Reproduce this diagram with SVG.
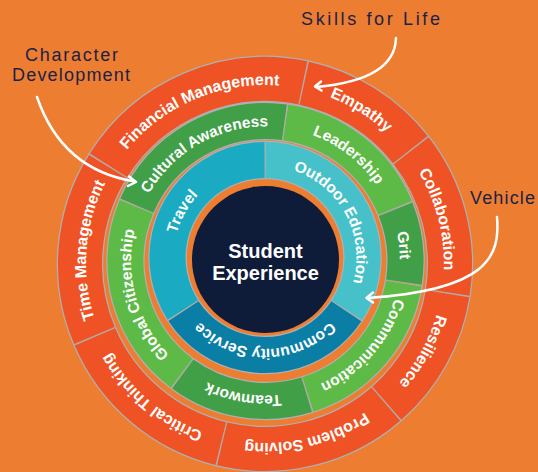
<svg xmlns="http://www.w3.org/2000/svg" width="538" height="472" viewBox="0 0 538 472">
<defs>
<style>
.c{fill:none}
.gr{stroke:#aeb0b2}
.red{stroke:#ef5224}
.dg{stroke:#409f47}
.lg{stroke:#5dba46}
.tv{stroke:#1aabc3}
.od{stroke:#47c1c9}
.cs{stroke:#0b7ea5}
.lbl{font-family:"Liberation Sans",Arial,sans-serif;font-weight:bold;font-size:15.5px;fill:#ffffff;text-anchor:middle}
.lr{font-size:16px}
.ctr{font-family:"Liberation Sans",Arial,sans-serif;font-weight:bold;font-size:20px;fill:#ffffff;text-anchor:middle}
.note{font-family:"Liberation Sans",Arial,sans-serif;font-size:18px;fill:#1b2247}
.arr{fill:none;stroke:#ffffff;stroke-width:2.5;stroke-linecap:round;stroke-linejoin:round}
</style>
<path id="tR" d="M -179 0 A 179 179 0 0 1 179 0 A 179 179 0 0 1 -179 0"/>
<path id="tG" d="M -134.5 0 A 134.5 134.5 0 0 1 134.5 0 A 134.5 134.5 0 0 1 -134.5 0"/>
<path id="tI" d="M -91.5 0 A 91.5 91.5 0 0 1 91.5 0 A 91.5 91.5 0 0 1 -91.5 0"/>
</defs>
<rect width="538" height="472" fill="#ed7d31"/>

<!-- outer ring -->
<g id="n-financial" transform="translate(265,264)">
<circle class="c gr" r="185" stroke-width="46.5" stroke-dasharray="226 3000" transform="rotate(212)"/>
<circle class="c red" r="185" stroke-width="44" stroke-dasharray="224.5 3000" transform="rotate(212.23)"/>
<g transform="rotate(-23)"><text class="lbl lr"><textPath href="#tR" startOffset="25%">Financial Management</textPath></text></g>
</g>
<g id="n-empathy" transform="translate(265,264)">
<circle class="c gr" r="185" stroke-width="46.5" stroke-dasharray="129.2 3000" transform="rotate(282)"/>
<circle class="c red" r="185" stroke-width="44" stroke-dasharray="127.7 3000" transform="rotate(282.23)"/>
<g transform="rotate(32)"><text class="lbl lr"><textPath href="#tR" startOffset="25%">Empathy</textPath></text></g>
</g>
<g id="n-collaboration" transform="translate(265,264)">
<circle class="c gr" r="185" stroke-width="46.5" stroke-dasharray="151.8 3000" transform="rotate(322)"/>
<circle class="c red" r="185" stroke-width="44" stroke-dasharray="150.3 3000" transform="rotate(322.23)"/>
<g transform="rotate(75.5)"><text class="lbl lr"><textPath href="#tR" startOffset="25%">Collaboration</textPath></text></g>
</g>
<g id="n-resilience" transform="translate(265,264)">
<circle class="c gr" r="185" stroke-width="46.5" stroke-dasharray="129.2 3000" transform="rotate(9)"/>
<circle class="c red" r="185" stroke-width="44" stroke-dasharray="127.7 3000" transform="rotate(9.23)"/>
<g transform="rotate(119)"><text class="lbl lr"><textPath href="#tR" startOffset="25%">Resilience</textPath></text></g>
</g>
<g id="n-problem" transform="translate(265,264)">
<circle class="c gr" r="185" stroke-width="46.5" stroke-dasharray="176.3 3000" transform="rotate(49)"/>
<circle class="c red" r="185" stroke-width="44" stroke-dasharray="174.8 3000" transform="rotate(49.23)"/>
<g transform="rotate(166.3)"><text class="lbl lr"><textPath href="#tR" startOffset="25%">Problem Solving</textPath></text></g>
</g>
<g id="n-critical" transform="translate(265,264)">
<circle class="c gr" r="185" stroke-width="46.5" stroke-dasharray="172.4 3000" transform="rotate(103.6)"/>
<circle class="c red" r="185" stroke-width="44" stroke-dasharray="170.9 3000" transform="rotate(103.83)"/>
<g transform="rotate(-139.7)"><text class="lbl lr"><textPath href="#tR" startOffset="25%">Critical Thinking</textPath></text></g>
</g>
<g id="n-time" transform="translate(265,264)">
<circle class="c gr" r="185" stroke-width="46.5" stroke-dasharray="177.6 3000" transform="rotate(157)"/>
<circle class="c red" r="185" stroke-width="44" stroke-dasharray="176.1 3000" transform="rotate(157.23)"/>
<g transform="rotate(-85.5)"><text class="lbl lr"><textPath href="#tR" startOffset="25%">Time Management</textPath></text></g>
</g>

<!-- middle ring -->
<g id="n-cultural" transform="translate(265.5,261)">
<circle class="c gr" r="140" stroke-width="38.5" stroke-dasharray="183.3 3000" transform="rotate(203)"/>
<circle class="c dg" r="140" stroke-width="36" stroke-dasharray="181.8 3000" transform="rotate(203.31)"/>
<g transform="rotate(-29.5)"><text class="lbl"><textPath href="#tG" startOffset="25%">Cultural Awareness</textPath></text></g>
</g>
<g id="n-leadership" transform="translate(265.5,261)">
<circle class="c gr" r="140" stroke-width="38.5" stroke-dasharray="146.6 3000" transform="rotate(278)"/>
<circle class="c lg" r="140" stroke-width="36" stroke-dasharray="145.1 3000" transform="rotate(278.31)"/>
<g transform="rotate(38)"><text class="lbl"><textPath href="#tG" startOffset="25%">Leadership</textPath></text></g>
</g>
<g id="n-grit" transform="translate(265.5,261)">
<circle class="c gr" r="140" stroke-width="38.5" stroke-dasharray="75.7 3000" transform="rotate(338)"/>
<circle class="c dg" r="140" stroke-width="36" stroke-dasharray="74.2 3000" transform="rotate(338.31)"/>
<g transform="rotate(83.5)"><text class="lbl"><textPath href="#tG" startOffset="25%">Grit</textPath></text></g>
</g>
<g id="n-communication" transform="translate(265.5,261)">
<circle class="c gr" r="140" stroke-width="38.5" stroke-dasharray="155.4 3000" transform="rotate(9)"/>
<circle class="c lg" r="140" stroke-width="36" stroke-dasharray="153.9 3000" transform="rotate(9.31)"/>
<g transform="rotate(131)"><text class="lbl"><textPath href="#tG" startOffset="25%">Communication</textPath></text></g>
</g>
<g id="n-teamwork" transform="translate(265.5,261)">
<circle class="c gr" r="140" stroke-width="38.5" stroke-dasharray="131.7 3000" transform="rotate(72.6)"/>
<circle class="c dg" r="140" stroke-width="36" stroke-dasharray="130.2 3000" transform="rotate(72.91)"/>
<g transform="rotate(189.5)"><text class="lbl"><textPath href="#tG" startOffset="25%">Teamwork</textPath></text></g>
</g>
<g id="n-global" transform="translate(265.5,261)">
<circle class="c gr" r="140" stroke-width="38.5" stroke-dasharray="186.9 3000" transform="rotate(126.5)"/>
<circle class="c lg" r="140" stroke-width="36" stroke-dasharray="185.4 3000" transform="rotate(126.81)"/>
<g transform="rotate(-105.5)"><text class="lbl"><textPath href="#tG" startOffset="25%">Global Citizenship</textPath></text></g>
</g>

<!-- inner ring -->
<g id="n-travel" transform="translate(265,257.5)">
<circle class="c gr" r="97.5" stroke-width="38.5" stroke-dasharray="209.3 3000" transform="rotate(147)"/>
<circle class="c tv" r="97.5" stroke-width="36" stroke-dasharray="207.8 3000" transform="rotate(147.44)"/>
<g transform="rotate(-61)"><text class="lbl"><textPath href="#tI" startOffset="25%">Travel</textPath></text></g>
</g>
<g id="n-outdoor" transform="translate(265,257.5)">
<circle class="c gr" r="97.5" stroke-width="38.5" stroke-dasharray="209.3 3000" transform="rotate(270)"/>
<circle class="c od" r="97.5" stroke-width="36" stroke-dasharray="207.8 3000" transform="rotate(270.44)"/>
<g transform="rotate(62)"><text class="lbl"><textPath href="#tI" startOffset="25%">Outdoor Education</textPath></text></g>
</g>
<g id="n-community" transform="translate(265,257.5)">
<circle class="c gr" r="97.5" stroke-width="38.5" stroke-dasharray="194 3000" transform="rotate(33)"/>
<circle class="c cs" r="97.5" stroke-width="36" stroke-dasharray="192.5 3000" transform="rotate(33.44)"/>
<g transform="rotate(-180)"><text class="lbl"><textPath href="#tI" startOffset="25%">Community Service</textPath></text></g>
</g>

<!-- center -->
<g id="n-student">
<circle cx="265.5" cy="259.5" r="73.5" fill="#0e1c3a"/>
<text class="ctr" x="265.5" y="258">Student</text>
<text class="ctr" x="265.5" y="280">Experience</text>
</g>

<!-- annotations -->
<g id="n-character"><text class="note" x="25" y="61" textLength="93" lengthAdjust="spacing">Character</text><text class="note" x="12" y="81" textLength="118" lengthAdjust="spacing">Development</text></g>
<g id="n-skills"><text class="note" x="301" y="25" textLength="139" lengthAdjust="spacing">Skills for Life</text></g>
<g id="n-vehicle"><text class="note" x="470" y="204" textLength="65" lengthAdjust="spacing">Vehicle</text></g>

<g id="connectors">
<path class="arr" d="M37,97 Q62,170 135,181.5"/>
<path class="arr" d="M129,176.5 L136,182 L128,186"/>
<path class="arr" d="M396,38 Q395,80 316,87"/>
<path class="arr" d="M321,81.5 L315,86.5 L321.5,90.5"/>
<path class="arr" d="M497,217 C500,255 490,290 367,298"/>
<path class="arr" d="M373,292.5 L366.5,298 L373,302.5"/>
</g>
</svg>
